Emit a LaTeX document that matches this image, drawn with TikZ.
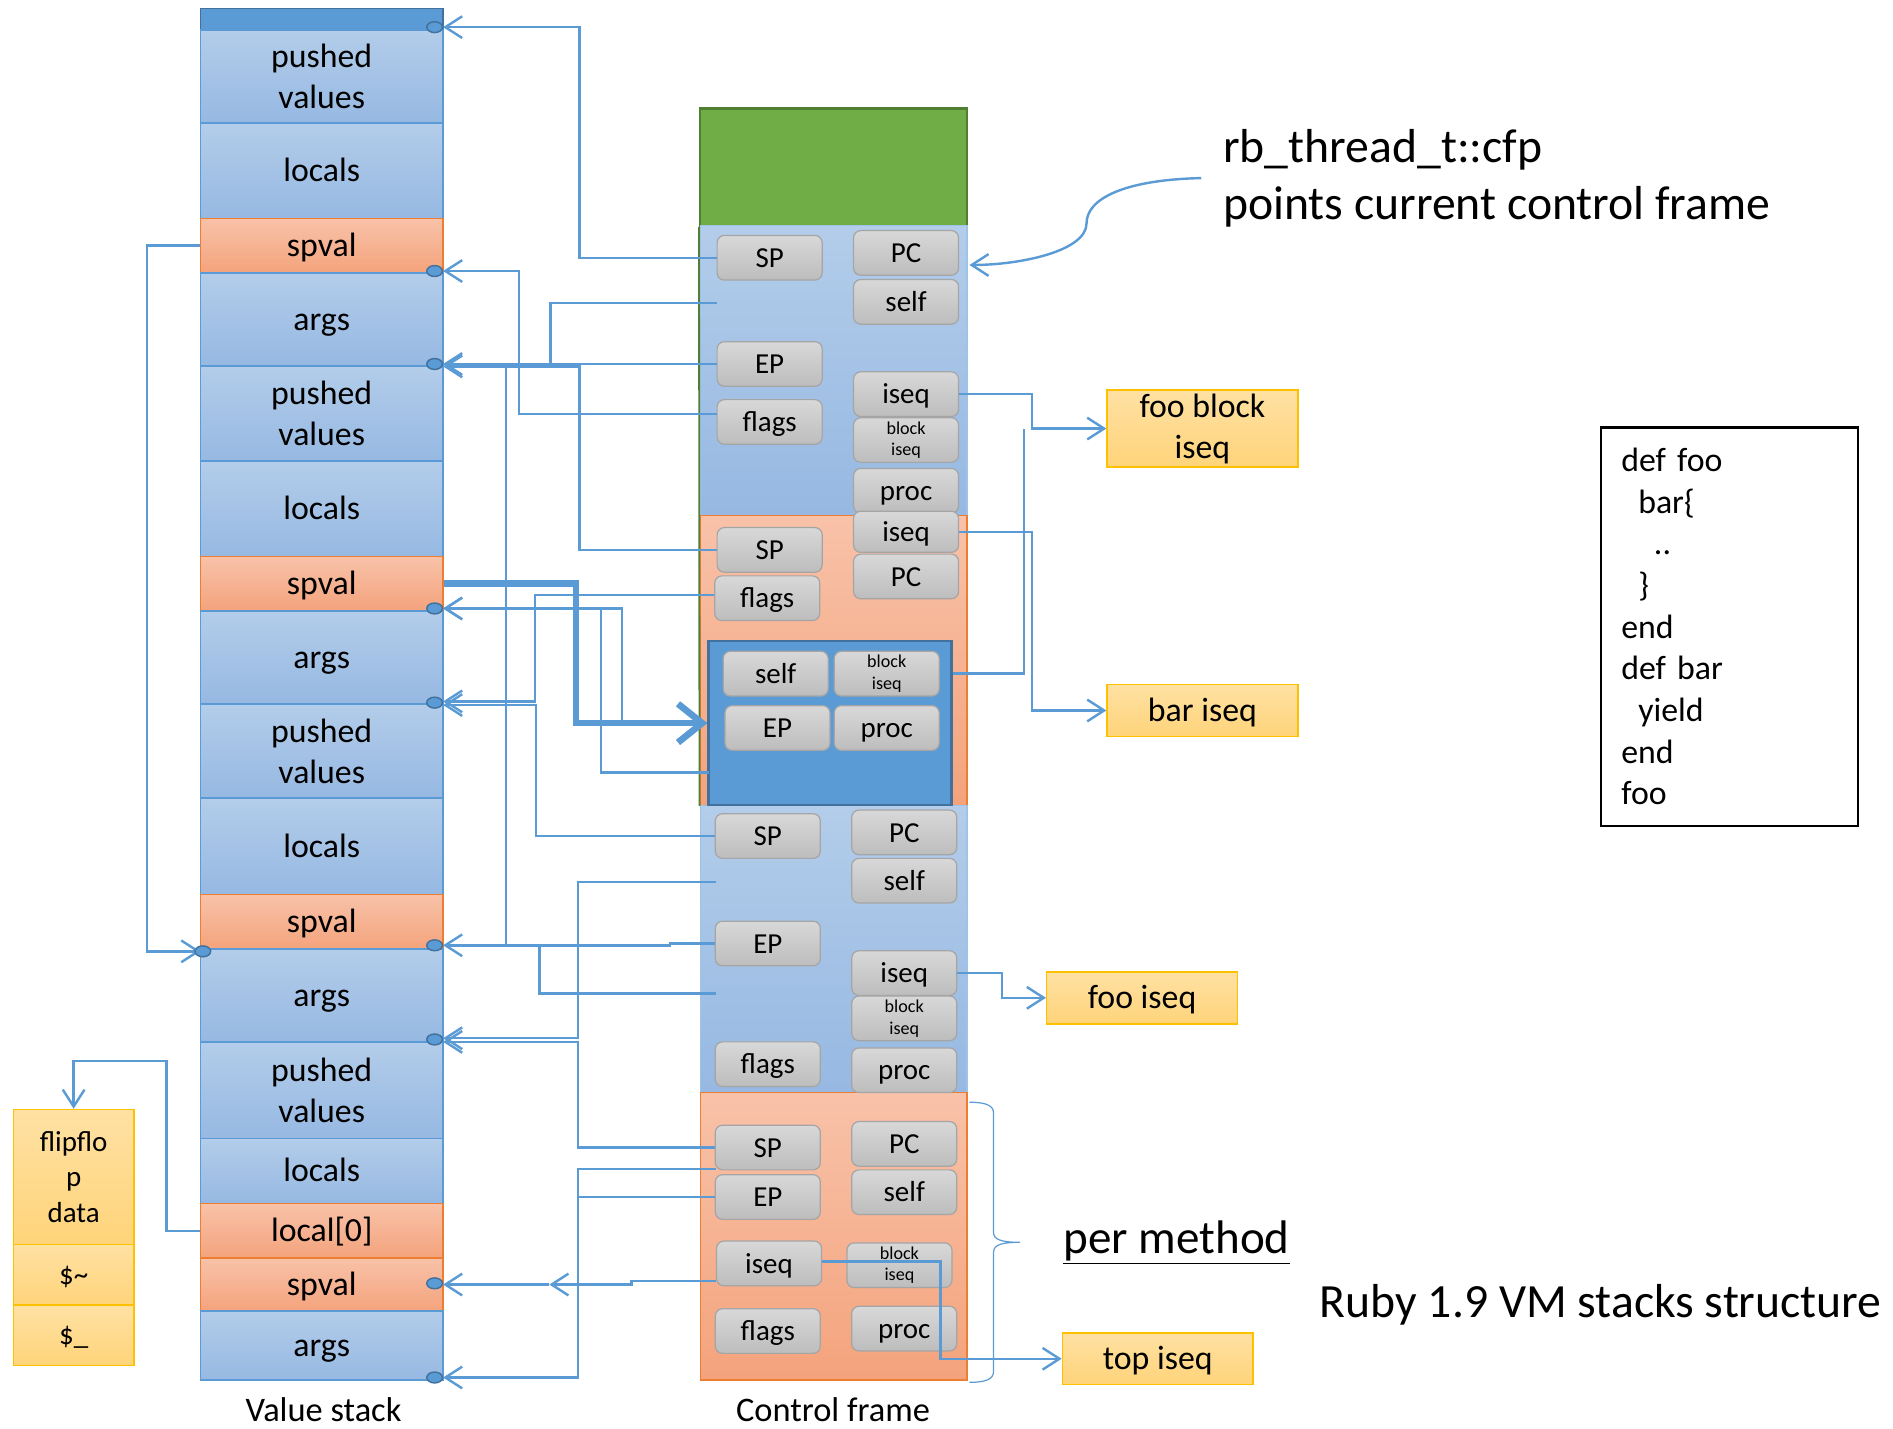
\documentclass[tikz,border=0pt]{standalone}
\usepackage{fontspec}
\setmainfont{Carlito}
\usetikzlibrary{arrows.meta}
\definecolor{lb}{HTML}{5B9BD5}
\definecolor{dkb}{HTML}{41719C}
\definecolor{cbt}{HTML}{B3CDEA}
\definecolor{cbb}{HTML}{96B8E2}
\definecolor{fbd}{HTML}{9DC3E6}
\definecolor{cot}{HTML}{F8C2A9}
\definecolor{cob}{HTML}{F4A37C}
\definecolor{orb}{HTML}{ED7D31}
\definecolor{grf}{HTML}{70AD47}
\definecolor{grb}{HTML}{507E32}
\definecolor{gyt}{HTML}{D8D8D8}
\definecolor{gyb}{HTML}{BDBDBD}
\definecolor{gyd}{HTML}{A5A5A5}
\definecolor{ylt}{HTML}{FFE1A3}
\definecolor{ylb}{HTML}{FFD47A}
\definecolor{yld}{HTML}{FFC000}
\begin{document}
\begin{tikzpicture}[x=1pt,y=-1pt,
  f28/.style={font=\fontsize{28}{34}\selectfont},
  one/.style={text height=22pt, text depth=4pt},
  bone/.style={text height=19pt, text depth=3pt},
  bcell/.style={draw=lb, line width=1.2pt, top color=cbt, bottom color=cbb, minimum width=201pt, inner sep=0pt, align=center, f28},
  ocell/.style={draw=orb, line width=1.2pt, top color=cot, bottom color=cob, minimum width=201pt, inner sep=0pt, align=center, f28},
  bframe/.style={draw=fbd, line width=1.2pt, top color=cbt, bottom color=cbb, minimum width=221pt, inner sep=0pt},
  oframe/.style={draw=orb, line width=1.2pt, top color=cot, bottom color=cob, minimum width=221pt, inner sep=0pt},
  btn/.style={draw=gyd, line width=1pt, rounded corners=6pt, top color=gyt, bottom color=gyb, minimum width=87pt, minimum height=37pt, inner sep=0pt, align=center, font=\fontsize{24}{28}\selectfont, bone},
  sbtn/.style={draw=gyd, line width=1pt, rounded corners=6pt, top color=gyt, bottom color=gyb, minimum width=87pt, minimum height=37pt, inner sep=0pt, align=center, font=\fontsize{15}{18}\selectfont},
  ybox/.style={draw=yld, line width=1.2pt, top color=ylt, bottom color=ylb, minimum width=158pt, inner sep=0pt, align=center, f28},
  arr/.style={draw=lb, line width=2pt, -{Straight Barb[length=14pt,width=18pt]}},
  ln/.style={draw=lb, line width=2pt},
  fat/.style={draw=lb, line width=5.5pt, -{Straight Barb[length=20pt,width=32pt]}},
  dot/.style={fill=lb, draw=dkb, line width=1.2pt}
]
\useasboundingbox (0,0) rectangle (1568,1183);

% ---------------- value stack ----------------
\node[draw=dkb, fill=lb, line width=1.2pt, minimum width=201pt, minimum height=18pt, inner sep=0pt] (vtop) at (266.5,16) {};
\node[bcell, minimum height=77pt] (v1) at (266.5,63.5) {pushed\\values};
\node[bcell, one, minimum height=79pt] (v2) at (266.5,141.5) {locals};
\node[ocell, one, minimum height=45pt] (v3) at (266.5,203.5) {spval};
\node[bcell, one, minimum height=77pt] (v4) at (266.5,264.5) {args};
\node[bcell, minimum height=79pt] (v5) at (266.5,342.5) {pushed\\values};
\node[bcell, one, minimum height=79pt] (v6) at (266.5,421.5) {locals};
\node[ocell, one, minimum height=45pt] (v7) at (266.5,483.5) {spval};
\node[bcell, one, minimum height=77pt] (v8) at (266.5,544.5) {args};
\node[bcell, minimum height=78pt] (v9) at (266.5,622) {pushed\\values};
\node[bcell, one, minimum height=80pt] (v10) at (266.5,701) {locals};
\node[ocell, one, minimum height=45pt] (v11) at (266.5,763.5) {spval};
\node[bcell, one, minimum height=77pt] (v12) at (266.5,824.5) {args};
\node[bcell, minimum height=80pt] (v13) at (266.5,903) {pushed\\values};
\node[bcell, one, minimum height=54pt] (v14) at (266.5,970) {locals};
\node[ocell, one, minimum height=45pt] (v15) at (266.5,1019.5) {local[0]};
\node[ocell, one, minimum height=44pt] (v16) at (266.5,1064) {spval};
\node[bcell, one, minimum height=57pt] (v17) at (266.5,1114.5) {args};
\node[font=\fontsize{28.5}{32}\selectfont] (vlab) at (268,1168) {Value stack};

% ---------------- flipflop ----------------
\node[ybox, minimum width=100pt, minimum height=112pt, font=\fontsize{24}{29.5}\selectfont] (flip) at (61,975) {flipflo\\p\\data};
\node[ybox, bone, minimum width=100pt, minimum height=50pt, font=\fontsize{24}{28}\selectfont] (dtil) at (61,1056) {\$\textasciitilde};
\node[ybox, bone, minimum width=100pt, minimum height=50pt, font=\fontsize{24}{28}\selectfont] (dund) at (61,1106) {\$\_};

% ---------------- control frames ----------------
\node[draw=grb, fill=grf, line width=2pt, minimum width=221pt, minimum height=97pt, inner sep=0pt] (green) at (690.5,138.5) {};
\node[bframe, minimum height=240pt] (f1) at (690.5,307) {};
\node[oframe, minimum height=240pt] (f2) at (690.5,547) {};
\node[bframe, minimum height=238pt] (f3) at (690.5,786) {};
\node[oframe, minimum height=238pt] (f4) at (690.5,1024) {};
\draw[grb, line width=1.5pt] (green.south west) -- (f2.south west);
\node[draw=dkb, fill=lb, line width=2pt, minimum width=201pt, minimum height=136pt, inner sep=0pt] (inner) at (687.5,599) {};
\node[font=\fontsize{28.5}{32}\selectfont] (clab) at (690,1168) {Control frame};

% frame 1
\node[btn] (sp1) at (637.5,213.5) {SP};
\node[btn] (pc1) at (750.5,209.5) {PC};
\node[btn] (self1) at (750.5,250) {self};
\node[btn] (ep1) at (637.5,301.5) {EP};
\node[btn] (iseq1) at (750.5,326.5) {iseq};
\node[btn] (flags1) at (637.5,349.5) {flags};
\node[sbtn] (bi1) at (750.5,364.5) {block\\iseq};
\node[btn] (proc1) at (750.5,406.5) {proc};
% frame 2
\node[btn, minimum height=34pt] (iseq2) at (750.5,440.5) {iseq};
\node[btn] (sp2) at (637.5,455.5) {SP};
\node[btn] (pc2) at (750.5,477.5) {PC};
\node[btn] (flags2) at (635.5,495.5) {flags};
\node[btn] (self2) at (642.5,558) {self};
\node[sbtn] (bi2) at (734.5,558) {block\\iseq};
\node[btn] (ep2) at (644,603) {EP};
\node[btn] (proc2) at (734.5,603) {proc};
% frame 3
\node[btn] (sp3) at (636,692.5) {SP};
\node[btn] (pc3) at (749,689.5) {PC};
\node[btn] (self3) at (749,729.5) {self};
\node[btn] (ep3) at (636,781.5) {EP};
\node[btn] (iseq3) at (749,806) {iseq};
\node[sbtn] (bi3) at (749,843.5) {block\\iseq};
\node[btn] (flags3) at (636,881.5) {flags};
\node[btn] (proc3) at (749,886.5) {proc};
% frame 4
\node[btn] (sp4) at (636,950.5) {SP};
\node[btn] (pc4) at (749,947.5) {PC};
\node[btn] (ep4) at (636,991.5) {EP};
\node[btn] (self4) at (749,987.5) {self};
\node[btn] (iseq4) at (637,1046.5) {iseq};
\node[sbtn] (bi4) at (745,1048) {block\\iseq};
\node[btn] (flags4) at (636,1102.5) {flags};
\node[btn] (proc4) at (749,1100.5) {proc};

% ---------------- iseq boxes ----------------
\node[ybox, minimum height=64pt] (fbi) at (996,355) {foo block\\iseq};
\node[ybox, one, minimum height=43pt] (bari) at (996,588.5) {bar iseq};
\node[ybox, one, minimum height=43pt] (fooi) at (946,826.5) {foo iseq};
\node[ybox, one, minimum height=43pt] (topi) at (959,1125.5) {top iseq};

% ---------------- texts ----------------
\node[anchor=west, inner sep=0pt, align=left, font=\fontsize{39.5}{47}\selectfont] (cfp) at (1013,147.5) {rb\_thread\_t::cfp\\points current control frame};
\node[font=\fontsize{39}{47}\selectfont] (perm) at (974.5,1029) {\underline{per method}};
\node[anchor=west, inner sep=0pt, font=\fontsize{39.5}{46}\selectfont] (ruby) at (1093,1081) {Ruby 1.9 VM stacks structure};
\node[draw=black, line width=2pt, minimum height=330pt, text width=179pt, inner xsep=17pt, inner ysep=0pt, align=left, font=\fontsize{28}{34.5}\selectfont] (code) at (1432.5,519) {def foo\\\hspace*{14pt}bar\{\\\hspace*{27pt}..\\\hspace*{14pt}\}\\end\\def bar\\\hspace*{14pt}yield\\end\\foo};

% ---------------- coordinates ----------------
\coordinate (s0) at (367,22.5);
\coordinate (s1) at (367,224.5);
\coordinate (s2) at (367,301.5);
\coordinate (s2b) at (367,303.5);
\coordinate (s3) at (367,504);
\coordinate (s4) at (367,581);
\coordinate (s4b) at (367,584);
\coordinate (s5) at (367,783);
\coordinate (s6) at (367,860);
\coordinate (s6b) at (367,863);
\coordinate (s7) at (367,1064);
\coordinate (s8) at (367,1141);
\coordinate (sl) at (166,788);
\coordinate (bp1) at (594,251);
\coordinate (bp3) at (593,730.5);
\coordinate (bp3b) at (593,823);
\coordinate (bp4) at (593,968.5);
\coordinate (in640) at (587,640);
\coordinate (j1) at (419,303.5);
\coordinate (j2) at (419,783);
\coordinate (mid7) at (455,1064);
\coordinate (cfpt) at (803,219.5);

% ---------------- connectors ----------------
\draw[arr] (sp1.west) -| (480,22.5) -- (s0);
\draw[arr] ([yshift=6.5pt]flags1.west) -| (430,224.5) -- (s1);
\draw[ln] (bp1) -| (456,301.5);
\draw[arr] (ep1.west) -- (s2);
\draw[arr] (sp2.west) -| (480,303.5) -- (s2b);
\draw[ln] (j1) -- (j2);
\draw[arr] ([yshift=2.7pt]flags2.west) -| (443,581) -- (s4);
\draw[arr] (sp3.west) -| (444,584) -- (s4b);
\draw[arr] (in640) -| (498,504) -- (s3);
\draw[arr] (inner.west) -| (515,504) -- (s3);
\draw[fat] (v7.east) -| (477,599) -- (inner.west);
\draw[arr] (v3.west) -| (122,788) -- (sl);
\draw[arr] (v15.west) -| (138,879) -| (flip.north);
\draw[arr] (bp3) -| (479,860) -- (s6);
\draw[arr] (sp4.west) -| (479,863) -- (s6b);
\draw[arr] (ep3.west) -- (555,781.5) -- (555,783) -- (s5);
\draw[ln] (bp3b) -| (447,783);
\draw[arr] (bp4) -| (479,1141) -- (s8);
\draw[ln] (ep4.west) -- (479,991.5);
\draw[arr] ([yshift=-14.5pt]iseq4.west) -- (523,1061) -- (523,1064) -- (mid7);
\draw[arr] (mid7) -- (s7);
\draw[arr] ([yshift=1.5pt]iseq4.east) -| (779,1125.5) -- (topi.west);
\draw[arr] (iseq1.east) -| (855,355) -- (fbi.west);
\draw[ln] ([yshift=41pt]inner.east) -| (848,355);
\draw[arr] (iseq2.east) -| (855,588.5) -- (bari.west);
\draw[arr] (iseq3.east) -| (830,826.5) -- (fooi.west);
\draw[arr] ([xshift=-18pt]cfp.west) .. controls (930,149) and (900,165) .. (900,185) .. controls (900,208) and (845,219.5) .. (cfpt);

% dots
\foreach \yy in {22.5,224.5,301.5,504,582,783,861,1063,1141}
  \filldraw[dot] (360,\yy) ellipse [x radius=6.5pt, y radius=4.5pt];
\filldraw[dot] (168,788) ellipse [x radius=6.5pt, y radius=4.5pt];

% brace
\draw[lb, line width=1pt] (803,913) .. controls (815,913) and (823,915) .. (823,922) -- (823,1021) .. controls (823,1027) and (830,1029) .. (845,1029) .. controls (830,1029) and (823,1031) .. (823,1037) -- (823,1136) .. controls (823,1143) and (815,1145) .. (803,1145);
\end{tikzpicture}
\end{document}
